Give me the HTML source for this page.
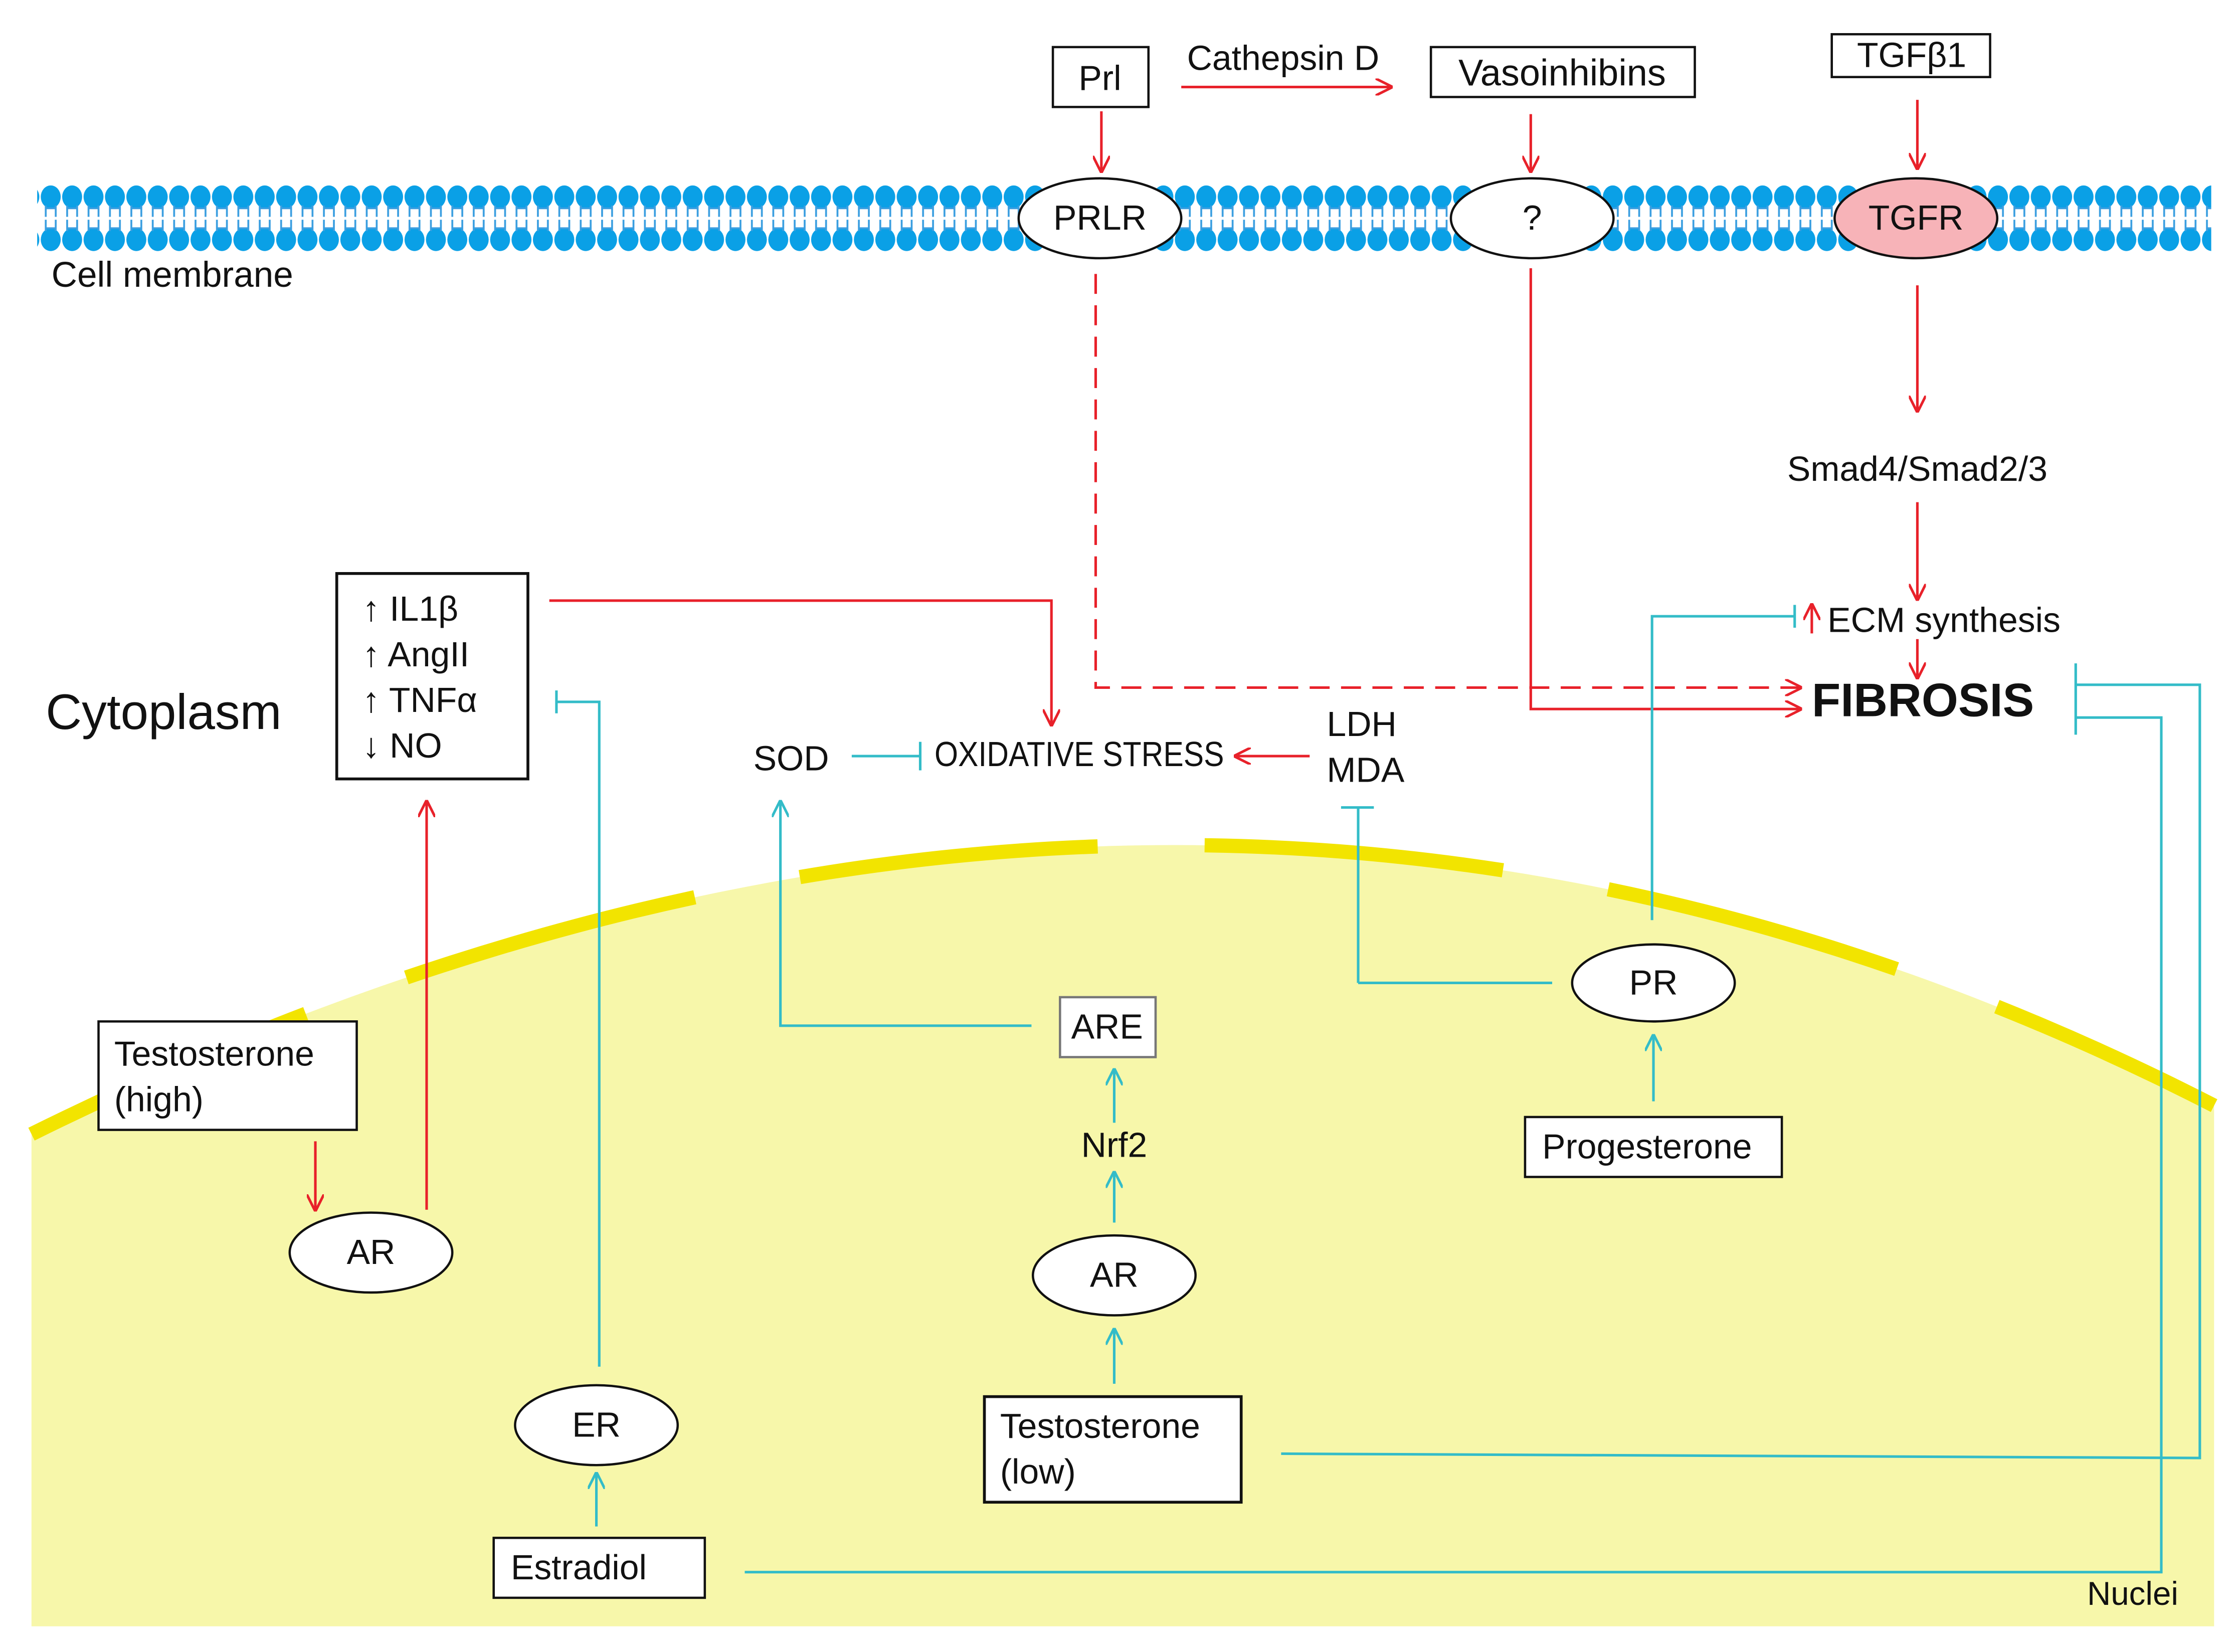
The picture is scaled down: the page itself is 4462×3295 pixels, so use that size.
<!DOCTYPE html>
<html><head><meta charset="utf-8"><style>
html,body{margin:0;padding:0;background:#fff;}
svg{display:block;}
text{font-family:"Liberation Sans",sans-serif;fill:#111;}
</style></head><body>
<svg width="4462" height="3295" viewBox="0 0 1568 1158" xmlns="http://www.w3.org/2000/svg">
<defs>
<marker id="ar" viewBox="0 0 10 10" refX="9" refY="5" markerWidth="12" markerHeight="12" markerUnits="userSpaceOnUse" orient="auto"><path d="M0,0 L10,5 L0,10" fill="none" stroke="#e8212a" stroke-width="1.5"/></marker>
<marker id="at" viewBox="0 0 10 10" refX="9" refY="5" markerWidth="12" markerHeight="12" markerUnits="userSpaceOnUse" orient="auto"><path d="M0,0 L10,5 L0,10" fill="none" stroke="#33bcc8" stroke-width="1.5"/></marker>
<pattern id="lip" x="28" y="0" width="15" height="1158" patternUnits="userSpaceOnUse">
<ellipse cx="7.5" cy="138" rx="7" ry="8" fill="#0aa0e6"/>
<ellipse cx="7.5" cy="168" rx="7" ry="8" fill="#0aa0e6"/>
<path d="M4,144 V152 M11,144 V152 M4,146 H11 M4,154 V162 M11,154 V162 M4,160 H11" stroke="#3a9ee0" stroke-width="1.3" fill="none"/>
</pattern>
</defs>
<path d="M22,795 Q820,400 1552,775 L1552,1140 L22,1140 Z" fill="#f7f7aa"/>
<path d="M22,795 Q820,400 1552,775" fill="none" stroke="#f2e400" stroke-width="10" stroke-dasharray="210,75"/>
<rect x="26" y="128" width="1524" height="50" fill="url(#lip)"/>
<text x="36" y="201" font-size="25">Cell membrane</text>
<text x="32" y="511" font-size="35">Cytoplasm</text>
<text x="1463" y="1125" font-size="23">Nuclei</text>

<g fill="#fff" stroke="#111" stroke-width="1.6">
<rect x="738" y="33" width="67" height="42"/>
<rect x="1003" y="33" width="185" height="35"/>
<rect x="1284" y="24" width="111" height="30"/>
<ellipse cx="771" cy="153" rx="57" ry="28"/>
<ellipse cx="1074" cy="153" rx="57" ry="28"/>
<ellipse cx="1343" cy="153" rx="57" ry="28" fill="#f7b3b8"/>
<rect x="236" y="402" width="134" height="144" stroke-width="2"/>
<rect x="69" y="716" width="181" height="76"/>
<ellipse cx="260" cy="878" rx="57" ry="28"/>
<ellipse cx="418" cy="999" rx="57" ry="28"/>
<rect x="346" y="1078" width="148" height="42"/>
<rect x="743" y="699" width="67" height="42" stroke="#777"/>
<ellipse cx="781" cy="894" rx="57" ry="28"/>
<rect x="690" y="979" width="180" height="74" stroke-width="2"/>
<ellipse cx="1159" cy="689" rx="57" ry="27"/>
<rect x="1069" y="783" width="180" height="42"/>
</g>
<g font-size="24.5">
<text x="771" y="63" text-anchor="middle">Prl</text>
<text x="832" y="49">Cathepsin D</text>
<text x="1095" y="60" text-anchor="middle" font-size="26">Vasoinhibins</text>
<text x="1340" y="47" text-anchor="middle">TGFβ1</text>
<text x="771" y="161" text-anchor="middle">PRLR</text>
<text x="1074" y="161" text-anchor="middle">?</text>
<text x="1343" y="161" text-anchor="middle">TGFR</text>
<text x="1344" y="337" text-anchor="middle">Smad4/Smad2/3</text>
<text x="1281" y="443">ECM synthesis</text>
<text x="1270" y="502" font-size="33" font-weight="bold">FIBROSIS</text>
<text x="254" y="435"><tspan font-weight="bold">↑</tspan> IL1β</text>
<text x="254" y="467"><tspan font-weight="bold">↑</tspan> AngII</text>
<text x="254" y="499"><tspan font-weight="bold">↑</tspan> TNFα</text>
<text x="254" y="531"><tspan font-weight="bold">↓</tspan> NO</text>
<text x="528" y="540">SOD</text>
<text x="655" y="537" textLength="203" lengthAdjust="spacingAndGlyphs">OXIDATIVE STRESS</text>
<text x="930" y="516">LDH</text>
<text x="930" y="548">MDA</text>
<text x="80" y="747">Testosterone</text>
<text x="80" y="779">(high)</text>
<text x="260" y="886" text-anchor="middle">AR</text>
<text x="418" y="1007" text-anchor="middle">ER</text>
<text x="358" y="1107">Estradiol</text>
<text x="776" y="728" text-anchor="middle">ARE</text>
<text x="781" y="811" text-anchor="middle">Nrf2</text>
<text x="781" y="902" text-anchor="middle">AR</text>
<text x="701" y="1008">Testosterone</text>
<text x="701" y="1040">(low)</text>
<text x="1159" y="697" text-anchor="middle">PR</text>
<text x="1081" y="812">Progesterone</text>
</g>
<g stroke="#e8212a" stroke-width="1.8" fill="none" marker-end="url(#ar)">
<path d="M828,61 H975"/>
<path d="M772,78 V120"/>
<path d="M1073,80 V120"/>
<path d="M1344,70 V118"/>
<path d="M1344,200 V288"/>
<path d="M1344,352 V420"/>
<path d="M1344,448 V475"/>
<path d="M1270,444 V424"/>
<path d="M768,192 V482 H1262" stroke-dasharray="14,8"/>
<path d="M1073,188 V497 H1262"/>
<path d="M385,421 H737 V508"/>
<path d="M918,530 H866"/>
<path d="M221,800 V848"/>
<path d="M299,848 V562"/>
</g>
<g stroke="#33bcc8" stroke-width="1.8" fill="none">
<path d="M597,530 H645 M645,520 V540"/>
<path d="M952,689 V566 M940,566 H963"/>
<path d="M952,689 H1088"/>
<path d="M1158,645 V432 H1258 M1258,424 V440"/>
<path d="M420,958 V492 H390 M390,484 V500"/>
<path d="M1455,465 V515 M1455,480 H1542 V1022 L898,1019"/>
<path d="M1455,503 H1515 V1102 H522"/>
</g>
<g stroke="#33bcc8" stroke-width="1.8" fill="none" marker-end="url(#at)">
<path d="M723,719 H547 V562"/>
<path d="M781,787 V750"/>
<path d="M781,857 V822"/>
<path d="M781,970 V932"/>
<path d="M1159,772 V726"/>
<path d="M418,1070 V1033"/>
</g>
</svg>
</body></html>
